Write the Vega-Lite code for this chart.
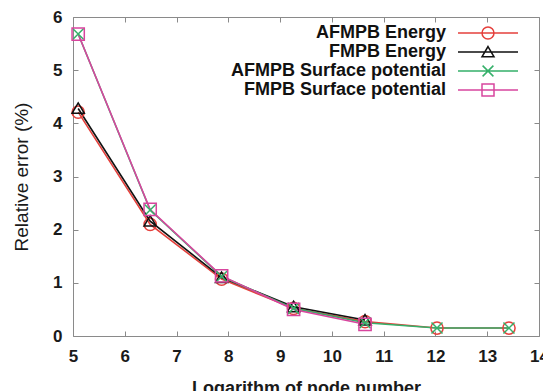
{
  "$schema": "https://vega.github.io/schema/vega-lite/v6.json",
  "width": 466,
  "height": 319,
  "autosize": {"type": "none"},
  "padding": {"left": 73, "top": 17, "right": 4, "bottom": 55},
  "background": "white",
  "config": {
    "view": {"stroke": "#8a8a8a", "strokeWidth": 1},
    "axis": {
      "grid": false,
      "domain": false,
      "tickColor": "#8a8a8a",
      "tickSize": -5,
      "labelFlush": false,
      "labelFont": "Liberation Sans",
      "labelFontWeight": "bold",
      "labelFontSize": 17,
      "labelColor": "#1a1a1a",
      "titleFont": "Liberation Sans",
      "titleColor": "#1a1a1a"
    },
    "point": {"filled": false, "strokeWidth": 1.5, "size": 150, "opacity": 1}
  },
  "data": {
    "values": [
      {"series": "AFMPB Energy", "x": 5.1, "y": 4.21},
      {"series": "AFMPB Energy", "x": 6.49, "y": 2.1},
      {"series": "AFMPB Energy", "x": 7.87, "y": 1.07},
      {"series": "AFMPB Energy", "x": 9.26, "y": 0.52},
      {"series": "AFMPB Energy", "x": 10.64, "y": 0.27},
      {"series": "AFMPB Energy", "x": 12.03, "y": 0.15},
      {"series": "AFMPB Energy", "x": 13.42, "y": 0.15},
      {"series": "FMPB Energy", "x": 5.1, "y": 4.28},
      {"series": "FMPB Energy", "x": 6.49, "y": 2.16},
      {"series": "FMPB Energy", "x": 7.87, "y": 1.1},
      {"series": "FMPB Energy", "x": 9.26, "y": 0.55},
      {"series": "FMPB Energy", "x": 10.64, "y": 0.3},
      {"series": "AFMPB Surface potential", "x": 5.1, "y": 5.68},
      {"series": "AFMPB Surface potential", "x": 6.49, "y": 2.37},
      {"series": "AFMPB Surface potential", "x": 7.87, "y": 1.12},
      {"series": "AFMPB Surface potential", "x": 9.26, "y": 0.52},
      {"series": "AFMPB Surface potential", "x": 10.64, "y": 0.25},
      {"series": "AFMPB Surface potential", "x": 12.03, "y": 0.15},
      {"series": "AFMPB Surface potential", "x": 13.42, "y": 0.15},
      {"series": "FMPB Surface potential", "x": 5.1, "y": 5.68},
      {"series": "FMPB Surface potential", "x": 6.49, "y": 2.38},
      {"series": "FMPB Surface potential", "x": 7.87, "y": 1.13},
      {"series": "FMPB Surface potential", "x": 9.26, "y": 0.5},
      {"series": "FMPB Surface potential", "x": 10.64, "y": 0.22}
    ]
  },
  "layer": [
    {
      "mark": {"type": "line", "strokeWidth": 1.6},
      "encoding": {
        "x": {
          "field": "x", "type": "quantitative",
          "scale": {"domain": [5, 14], "nice": false, "zero": false},
          "axis": {
            "orient": "bottom",
            "values": [5, 6, 7, 8, 9, 10, 11, 12, 13, 14],
            "labelPadding": 17,
            "title": "Logarithm of node number",
            "titleFontSize": 18,
            "titleFontWeight": "bold",
            "titleBaseline": "top",
            "titleY": 43
          }
        },
        "y": {
          "field": "y", "type": "quantitative",
          "scale": {"domain": [0, 6], "nice": false},
          "axis": {
            "orient": "left",
            "values": [0, 1, 2, 3, 4, 5, 6],
            "labelPadding": 16,
            "title": "Relative error (%)",
            "titleFontSize": 19,
            "titleFontWeight": "normal",
            "titleX": -52,
            "titleY": 159.5,
            "titleBaseline": "middle"
          }
        },
        "color": {
          "field": "series", "type": "nominal",
          "scale": {
            "domain": ["AFMPB Energy", "FMPB Energy", "AFMPB Surface potential", "FMPB Surface potential"],
            "range": ["#e5403c", "#111111", "#35b06a", "#d8459e"]
          },
          "legend": {
            "orient": "none",
            "legendX": 369,
            "legendY": 7,
            "padding": 0,
            "title": null,
            "symbolSize": 144,
            "symbolStrokeWidth": 1.5,
            "symbolFillColor": "transparent",
            "symbolOffset": 37,
            "labelAlign": "right",
            "labelOffset": -51,
            "labelLimit": 0,
            "labelFont": "Liberation Sans",
            "labelFontWeight": "bold",
            "labelFontSize": 18,
            "labelColor": "#111111",
            "rowPadding": 1,
            "encode": {
              "symbols": {
                "update": {
                  "shape": {"signal": "datum.value === 'AFMPB Energy' ? 'M-5,0H5M-1,0A1,1 0 1,1 1,0A1,1 0 1,1 -1,0Z' : datum.value === 'FMPB Energy' ? 'M-5,0H5M0,-0.9L1,0.8L-1,0.8Z' : datum.value === 'AFMPB Surface potential' ? 'M-5,0H5M-0.9,-0.9L0.9,0.9M-0.9,0.9L0.9,-0.9' : 'M-5,0H5M-1,-1H1V1H-1Z'"}
                }
              }
            }
          }
        }
      }
    },
    {
      "transform": [{"filter": "datum.series === 'AFMPB Energy'"}],
      "mark": {"type": "point", "shape": "M-1,0A1,1 0 1,1 1,0A1,1 0 1,1 -1,0Z"},
      "encoding": {
        "x": {
          "field": "x", "type": "quantitative",
          "axis": {"orient": "top", "values": [5, 6, 7, 8, 9, 10, 11, 12, 13, 14], "labels": false, "title": null}
        },
        "y": {
          "field": "y", "type": "quantitative",
          "axis": {"orient": "right", "values": [0, 1, 2, 3, 4, 5, 6], "labels": false, "title": null}
        },
        "color": {"field": "series", "type": "nominal"}
      }
    },
    {
      "transform": [{"filter": "datum.series === 'FMPB Energy'"}],
      "mark": {"type": "point", "shape": "M0,-0.9L1,0.8L-1,0.8Z"},
      "encoding": {
        "x": {"field": "x", "type": "quantitative", "axis": null},
        "y": {"field": "y", "type": "quantitative", "axis": null},
        "color": {"field": "series", "type": "nominal"}
      }
    },
    {
      "transform": [{"filter": "datum.series === 'AFMPB Surface potential'"}],
      "mark": {"type": "point", "shape": "M-0.9,-0.9L0.9,0.9M-0.9,0.9L0.9,-0.9"},
      "encoding": {
        "x": {"field": "x", "type": "quantitative", "axis": null},
        "y": {"field": "y", "type": "quantitative", "axis": null},
        "color": {"field": "series", "type": "nominal"}
      }
    },
    {
      "transform": [{"filter": "datum.series === 'FMPB Surface potential'"}],
      "mark": {"type": "point", "shape": "M-1,-1H1V1H-1Z"},
      "encoding": {
        "x": {"field": "x", "type": "quantitative", "axis": null},
        "y": {"field": "y", "type": "quantitative", "axis": null},
        "color": {"field": "series", "type": "nominal"}
      }
    }
  ],
  "resolve": {"axis": {"x": "independent", "y": "independent"}}
}
